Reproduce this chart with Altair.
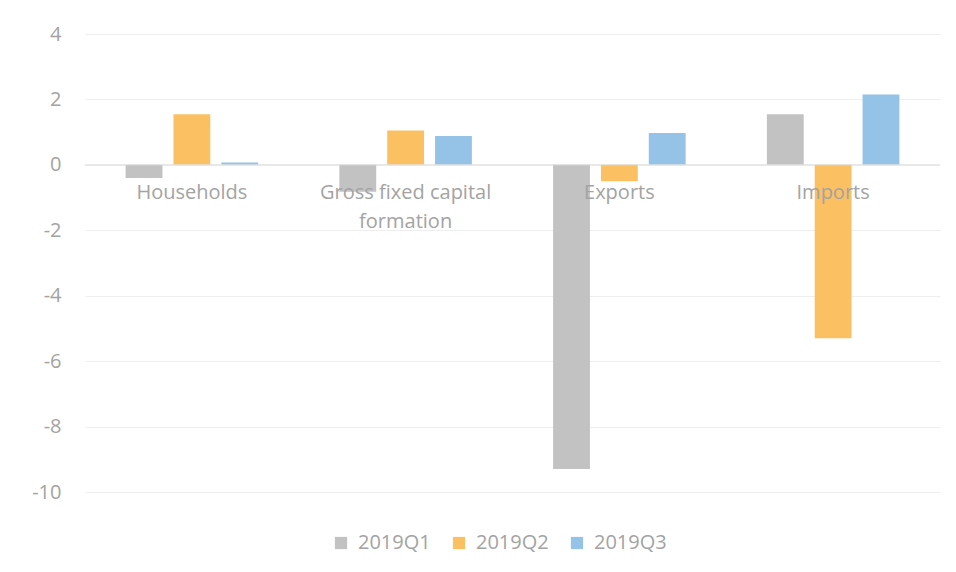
import altair as alt
import pandas as pd

categories = ["Households", "Gross fixed capital formation", "Exports", "Imports"]
label_lines = [["Households"], ["Gross fixed capital", "formation"], ["Exports"], ["Imports"]]
series = ["2019Q1", "2019Q2", "2019Q3"]
q1 = [-0.4, -0.82, -9.3, 1.55]
q2 = [1.55, 1.05, -0.5, -5.3]
q3 = [0.07, 0.88, 0.97, 2.15]
colors = ["#c2c2c2", "#fbc062", "#95c3e8"]
y_ticks = [-10, -8, -6, -4, -2, 0, 2, 4]

rows = []
for i, c in enumerate(categories):
    for s, vals in zip(series, [q1, q2, q3]):
        rows.append({"category": c, "series": s, "value": vals[i]})
df = pd.DataFrame(rows)
labels_df = pd.DataFrame({"category": categories, "label": label_lines})

font = "Open Sans"
txt_color = "#a3a3a3"

x_scale = alt.Scale(domain=categories, paddingInner=0.38, paddingOuter=0.19)
y_scale = alt.Scale(domain=[-10, 4], nice=False, zero=False)

bars = alt.Chart(df).mark_bar().encode(
    x=alt.X("category:N", sort=categories, scale=x_scale, axis=None),
    xOffset=alt.XOffset("series:N", sort=series, scale=alt.Scale(domain=series, paddingInner=0.23, paddingOuter=0)),
    y=alt.Y("value:Q", scale=y_scale,
            axis=alt.Axis(values=y_ticks, grid=True, gridColor="#eeeeee", domain=False, ticks=False,
                          labelExpr="datum.value + ''",
                          labelPadding=24, labelFontSize=20, labelColor=txt_color, labelFont=font,
                          title=None)),
    y2=alt.datum(0),
    color=alt.Color("series:N", scale=alt.Scale(domain=series, range=colors),
                    legend=alt.Legend(orient="none", legendX=246, legendY=499, direction="horizontal",
                                      title=None, symbolType="square", symbolSize=150,
                                      symbolStrokeWidth=0, labelFontSize=20, labelFont=font,
                                      labelColor=txt_color, columnPadding=18, labelOffset=7)),
)

zero_rule = alt.Chart(pd.DataFrame({"z": [0]})).mark_rule(color="#dcdcdc", strokeWidth=1).encode(
    y=alt.datum(0)
)

labels = alt.Chart(labels_df).mark_text(baseline="top", dy=18, fontSize=20, font=font,
                                        color=txt_color, lineHeight=29).encode(
    x=alt.X("category:N", sort=categories, scale=x_scale, axis=None),
    y=alt.datum(0),
    text="label",
)

chart = alt.layer(bars, zero_rule, labels).properties(
    width=855, height=458,
    background="white",
    autosize=alt.AutoSizeParams(type="none"),
    padding={"left": 77, "top": 26, "right": 8, "bottom": 72},
).configure_view(stroke=None)

chart.save("out.html", embed_options={"renderer": "svg", "actions": False})
